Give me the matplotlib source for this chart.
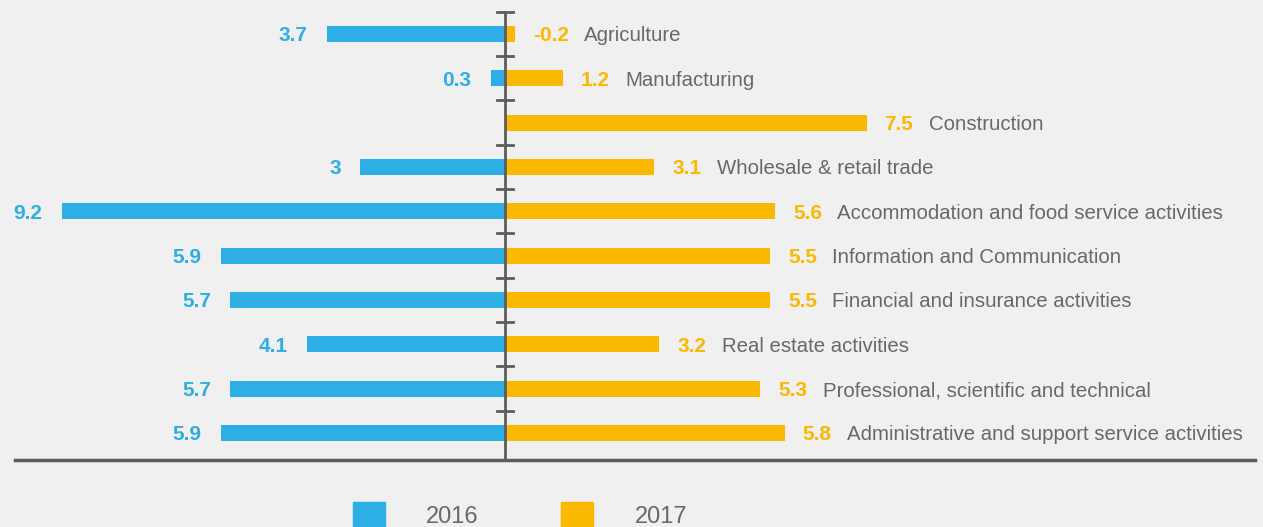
import numpy as np
import matplotlib
matplotlib.use("Agg")
import matplotlib.pyplot as plt
from matplotlib.patches import Patch

# data
sectors = [
    "Agriculture",
    "Manufacturing",
    "Construction",
    "Wholesale & retail trade",
    "Accommodation and food service activities",
    "Information and Communication",
    "Financial and insurance activities",
    "Real estate activities",
    "Professional, scientific and technical",
    "Administrative and support service activities",
]
growth_2016 = [3.7, 0.3, np.nan, 3, 9.2, 5.9, 5.7, 4.1, 5.7, 5.9]
growth_2017 = [-0.2, 1.2, 7.5, 3.1, 5.6, 5.5, 5.5, 3.2, 5.3, 5.8]

BLUE = "#2daee5"
ORANGE = "#fbb800"
GREY_TXT = "#686868"
AXIS = "#5c5c5c"
BG = "#f0f0f0"

plt.rcParams["font.family"] = ["Liberation Sans", "DejaVu Sans"]

fig = plt.figure(figsize=(12.63, 5.27), dpi=100, facecolor=BG)
ax = fig.add_axes([0, 0, 1, 1])
ax.set_facecolor(BG)

y = np.arange(len(sectors))
v16 = np.array(growth_2016, dtype=float)
v17 = np.array(growth_2017, dtype=float)

bar_h = 0.36
ax.barh(y, -np.nan_to_num(v16), height=bar_h, color=BLUE, zorder=2)
ax.barh(y, np.abs(v17), height=bar_h, color=ORANGE, zorder=2)

for i in range(len(sectors)):
    if not np.isnan(v16[i]):
        ax.annotate(f"{v16[i]:g}", xy=(-v16[i], y[i]), xytext=(-14, 0),
                    textcoords="offset points", ha="right", va="center_baseline",
                    color=BLUE, fontsize=15, fontweight="bold")
    val = ax.annotate(f"{v17[i]:g}", xy=(abs(v17[i]), y[i]), xytext=(13, 0),
                      textcoords="offset points", ha="left", va="center_baseline",
                      color=ORANGE, fontsize=15, fontweight="bold")
    ax.annotate(sectors[i], xy=(1, 0.5), xycoords=val, xytext=(11, 0),
                textcoords="offset points", ha="left", va="center",
                color=GREY_TXT, fontsize=14.7)

# centre axis with small ticks between the rows
ax.plot([0, 0], [-0.5, len(sectors) - 0.4], color=AXIS, lw=2, zorder=3)
for t in np.arange(len(sectors)) - 0.5:
    ax.plot([-0.17, 0.17], [t, t], color=AXIS, lw=2, zorder=3)
ax.axhline(len(sectors) - 0.4, xmin=15 / 1263, xmax=1255 / 1263, color=AXIS, lw=2.5, zorder=3)

ax.set_xlim(-505 / 48.2, (1263 - 505) / 48.2)
ax.set_ylim((527 - 34) / 44.33, -34 / 44.33)
ax.axis("off")

handles = [Patch(color=BLUE, label="2016"), Patch(color=ORANGE, label="2017")]
leg = fig.legend(handles=handles, loc="center left", bbox_to_anchor=(353 / 1263, 12 / 527),
                 ncol=2, frameon=False, fontsize=17, handlelength=1.35, handleheight=1.35,
                 handletextpad=1.75, columnspacing=3.5, borderpad=0, borderaxespad=0)
for t in leg.get_texts():
    t.set_color(GREY_TXT)

fig.savefig("out.png", dpi=100, facecolor=BG)
